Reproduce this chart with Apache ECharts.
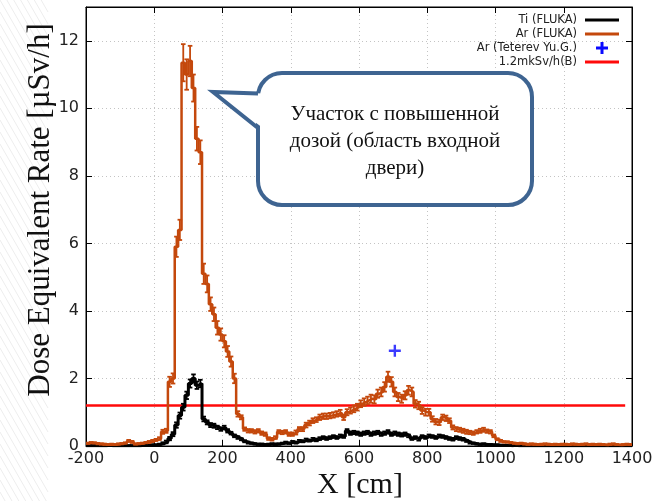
<!DOCTYPE html>
<html><head><meta charset="utf-8">
<script src="https://cdn.jsdelivr.net/npm/echarts@6/dist/echarts.min.js"></script>
<style>html,body{margin:0;padding:0;background:#fff}#c{width:668px;height:501px}</style>
</head><body><div id="c"></div>
<script>
// ---- data (10 cm bins starting at -200 cm) ----
const binStart = -200;
const binWidth = 10;
const xTicks = [-200, 0, 200, 400, 600, 800, 1000, 1200, 1400];
const yTicks = [0, 2, 4, 6, 8, 10, 12];

const arValues = [
  0.08,0.10,0.09,0.07,0.06,0.05,0.04,0.05,0.04,0.06,
  0.07,0.09,0.15,0.12,0.06,0.07,0.08,0.10,0.12,0.15,
  0.18,0.22,0.42,0.45,1.90,2.00,5.90,6.40,11.35,11.00,
  11.40,10.60,9.10,8.70,5.10,4.80,4.20,3.90,3.50,3.30,
  3.10,2.80,2.50,2.00,0.95,0.85,0.50,0.45,0.45,0.42,
  0.45,0.38,0.35,0.22,0.20,0.25,0.42,0.40,0.42,0.35,
  0.35,0.40,0.50,0.50,0.62,0.68,0.75,0.78,0.85,0.88,
  0.88,0.90,0.92,0.95,0.98,0.85,1.00,1.05,1.10,1.15,
  1.25,1.30,1.35,1.40,1.38,1.55,1.60,1.75,2.05,1.90,
  1.60,1.45,1.40,1.50,1.65,1.60,1.25,1.20,1.05,1.00,
  1.00,0.80,0.72,0.70,0.85,0.82,0.75,0.55,0.50,0.48,
  0.45,0.42,0.40,0.38,0.42,0.45,0.48,0.44,0.42,0.30,
  0.20,0.15,0.12,0.12,0.10,0.08,0.07,0.08,0.06,0.05,
  0.06,0.05,0.04,0.05,0.06,0.05,0.04,0.05,0.04,0.05,
  0.05,0.04,0.06,0.05,0.04,0.05,0.06,0.04,0.05,0.04,
  0.05,0.04,0.03,0.05,0.06,0.04,0.03,0.04,0.05,0.04
];
const arErrors = [
  0.02,0.02,0.02,0.02,0.02,0.02,0.02,0.02,0.02,0.02,
  0.02,0.02,0.03,0.03,0.02,0.02,0.02,0.02,0.03,0.03,
  0.03,0.04,0.06,0.06,0.15,0.15,0.30,0.30,0.55,0.45,
  0.45,0.40,0.35,0.35,0.30,0.25,0.20,0.20,0.20,0.18,
  0.18,0.16,0.15,0.14,0.08,0.06,0.05,0.05,0.05,0.05,
  0.05,0.05,0.05,0.04,0.04,0.04,0.05,0.05,0.05,0.05,
  0.05,0.06,0.06,0.06,0.07,0.07,0.07,0.07,0.08,0.08,
  0.08,0.08,0.08,0.08,0.09,0.08,0.09,0.09,0.10,0.10,
  0.10,0.11,0.11,0.12,0.12,0.12,0.13,0.14,0.15,0.14,
  0.13,0.12,0.12,0.12,0.13,0.13,0.11,0.11,0.10,0.10,
  0.10,0.08,0.08,0.08,0.08,0.08,0.07,0.06,0.06,0.06,
  0.06,0.06,0.05,0.05,0.05,0.06,0.06,0.05,0.05,0.04,
  0.03,0.03,0.02,0.02,0.02,0.02,0.02,0.02,0.02,0.02,
  0.02,0.02,0.02,0.02,0.02,0.02,0.02,0.02,0.02,0.02,
  0.02,0.02,0.02,0.02,0.02,0.02,0.02,0.02,0.02,0.02,
  0.02,0.02,0.02,0.02,0.02,0.02,0.02,0.02,0.02,0.02
];
const tiValues = [
  0.01,0.01,0.01,0.01,0.01,0.01,0.02,0.01,0.01,0.01,
  0.01,0.01,0.01,0.01,0.01,0.01,0.02,0.02,0.02,0.03,
  0.03,0.05,0.08,0.12,0.22,0.35,0.62,0.90,1.15,1.50,
  1.85,2.00,1.80,1.85,0.80,0.70,0.62,0.60,0.55,0.50,
  0.55,0.45,0.38,0.30,0.25,0.20,0.14,0.10,0.08,0.06,
  0.05,0.05,0.04,0.05,0.06,0.05,0.06,0.08,0.10,0.08,
  0.12,0.10,0.15,0.14,0.18,0.16,0.20,0.18,0.22,0.25,
  0.22,0.25,0.28,0.25,0.30,0.28,0.45,0.38,0.40,0.38,
  0.35,0.38,0.40,0.35,0.38,0.40,0.35,0.38,0.42,0.35,
  0.38,0.35,0.33,0.35,0.30,0.22,0.25,0.20,0.28,0.25,
  0.30,0.28,0.25,0.30,0.28,0.25,0.22,0.20,0.25,0.22,
  0.20,0.15,0.10,0.08,0.06,0.05,0.06,0.04,0.04,0.03,
  0.03,0.02,0.02,0.02,0.01,0.02,0.01,0.01,0.01,0.01,
  0.01,0.01,0.01,0.01,0.01,0.01,0.01,0.01,0.01,0.01,
  0.01,0.01,0.01,0.01,0.01,0.01,0.01,0.01,0.01,0.01,
  0.01,0.01,0.01,0.01,0.01,0.01,0.01,0.01,0.01,0.01
];
const tiErrors = [
  0.01,0.01,0.01,0.01,0.01,0.01,0.01,0.01,0.01,0.01,
  0.01,0.01,0.01,0.01,0.01,0.01,0.01,0.01,0.01,0.02,
  0.02,0.02,0.03,0.04,0.05,0.06,0.08,0.09,0.10,0.11,
  0.12,0.12,0.11,0.11,0.07,0.06,0.06,0.06,0.05,0.05,
  0.05,0.05,0.04,0.04,0.04,0.03,0.03,0.03,0.02,0.02,
  0.02,0.02,0.02,0.02,0.02,0.02,0.02,0.02,0.03,0.02,
  0.03,0.03,0.03,0.03,0.04,0.03,0.04,0.04,0.04,0.04,
  0.04,0.04,0.04,0.04,0.04,0.04,0.05,0.05,0.05,0.05,
  0.05,0.05,0.05,0.05,0.05,0.05,0.05,0.05,0.05,0.05,
  0.05,0.05,0.05,0.05,0.04,0.04,0.04,0.04,0.04,0.04,
  0.04,0.04,0.04,0.04,0.04,0.04,0.04,0.04,0.04,0.04,
  0.04,0.03,0.03,0.02,0.02,0.02,0.02,0.02,0.02,0.02,
  0.02,0.01,0.01,0.01,0.01,0.01,0.01,0.01,0.01,0.01,
  0.01,0.01,0.01,0.01,0.01,0.01,0.01,0.01,0.01,0.01,
  0.01,0.01,0.01,0.01,0.01,0.01,0.01,0.01,0.01,0.01,
  0.01,0.01,0.01,0.01,0.01,0.01,0.01,0.01,0.01,0.01
];
const teterevPoints = [[705, 2.82]];
const limitValue = 1.2;
const limitRange = [-200, 1380];

const seriesNames = ['Ti (FLUKA)', 'Ar (FLUKA)', 'Ar (Teterev Yu.G.)', '1.2mkSv/h(B)'];
const calloutLines = ['Участок с повышенной', 'дозой (область входной', 'двери)'];

// ---- styles ----
const C_TI = '#000000', C_AR = '#c4480c', C_BLUE = '#0a0aff', C_RED = '#ff0a0a', C_BOX = '#3e6491';
const PLUS = 'path://M4,0H6V4H10V6H6V10H4V6H0V4H4Z';

function stepData(vals) {
  const d = vals.map((v, i) => [binStart + binWidth * i, v]);
  d.push([binStart + binWidth * vals.length, vals[vals.length - 1]]);
  return d;
}
function errSeries(name, vals, errs, color, z) {
  return {
    type: 'custom', name: name + ' err', z: z, silent: true, clip: true,
    data: vals.map((v, i) => [binStart + binWidth * (i + 0.5), v, errs[i]]),
    encode: { x: 0, y: 1 },
    renderItem: function (params, api) {
      const x = api.value(0), v = api.value(1), e = api.value(2);
      const t = api.coord([x, v + e]);
      const b = api.coord([x, Math.max(0, v - e)]);
      const hw = 2.3, st = { stroke: color, lineWidth: 1.8 };
      return { type: 'group', children: [
        { type: 'line', shape: { x1: t[0], y1: t[1], x2: b[0], y2: b[1] }, style: st },
        { type: 'line', shape: { x1: t[0] - hw, y1: t[1], x2: t[0] + hw, y2: t[1] }, style: st },
        { type: 'line', shape: { x1: b[0] - hw, y1: b[1], x2: b[0] + hw, y2: b[1] }, style: st }
      ]};
    }
  };
}

const font = '"DejaVu Sans", sans-serif';
const chart = echarts.init(document.getElementById('c'), null, { renderer: 'canvas' });

// faint slide background hatch (decoration at the left margin)
const hatch = [];
for (let k = -8; k < 44; k++) {
  hatch.push({ type: 'line', z: -10, silent: true, shape: { x1: 0, y1: k * 12, x2: 48, y2: k * 12 + 84 },
    style: { stroke: '#ededed', lineWidth: 1 } });
}

const legendRows = [20, 34, 48, 62];
const legendGraphics = [];
seriesNames.forEach((n, i) => {
  legendGraphics.push({ type: 'text', x: 577, y: legendRows[i], z: 100,
    style: { text: n, font: '11.5px ' + font, fill: '#222', align: 'right', verticalAlign: 'middle' } });
});
legendGraphics.push({ type: 'line', z: 100, shape: { x1: 585, y1: legendRows[0], x2: 619, y2: legendRows[0] }, style: { stroke: C_TI, lineWidth: 3 } });
legendGraphics.push({ type: 'line', z: 100, shape: { x1: 585, y1: legendRows[1], x2: 619, y2: legendRows[1] }, style: { stroke: C_AR, lineWidth: 3 } });
legendGraphics.push({ type: 'line', z: 100, shape: { x1: 596, y1: legendRows[2], x2: 608, y2: legendRows[2] }, style: { stroke: C_BLUE, lineWidth: 3 } });
legendGraphics.push({ type: 'line', z: 100, shape: { x1: 602, y1: legendRows[2] - 6, x2: 602, y2: legendRows[2] + 6 }, style: { stroke: C_BLUE, lineWidth: 3 } });
legendGraphics.push({ type: 'line', z: 100, shape: { x1: 585, y1: legendRows[3], x2: 619, y2: legendRows[3] }, style: { stroke: C_RED, lineWidth: 3 } });

const calloutGraphics = [
  { type: 'rect', z: 110, shape: { x: 258, y: 73, width: 274, height: 132, r: 24 }, style: { fill: '#fff', stroke: C_BOX, lineWidth: 4 } },
  { type: 'polygon', z: 111, shape: { points: [[214, 92], [263, 93.5], [263, 128]] }, style: { fill: '#fff' } },
  { type: 'polyline', z: 112, shape: { points: [[258, 93.5], [213, 92], [258, 128]] }, style: { stroke: C_BOX, lineWidth: 4, lineJoin: 'miter', fill: null } }
];
const calloutY = [114, 141, 168];
calloutLines.forEach((t, i) => {
  calloutGraphics.push({ type: 'text', z: 113, x: 395, y: calloutY[i],
    style: { text: t, font: '21px "Liberation Serif", serif', fill: '#111', align: 'center', verticalAlign: 'middle' } });
});

const axisCommonX = { type: 'value', min: xTicks[0], max: xTicks[xTicks.length - 1], interval: 200 };
const axisCommonY = { type: 'value', min: 0, max: 13, interval: 2 };

chart.setOption({
  animation: false,
  backgroundColor: '#fff',
  grid: { left: 86, right: 36, top: 7, bottom: 55, show: true, borderColor: '#000', borderWidth: 1, backgroundColor: '#fff' },
  xAxis: [
    Object.assign({}, axisCommonX, {
      position: 'bottom',
      axisLine: { show: true, onZero: false, lineStyle: { color: '#000', width: 1 } },
      axisTick: { show: true, inside: true, length: 6, lineStyle: { color: '#000' } },
      axisLabel: { color: '#222', fontSize: 16, fontFamily: font, margin: 5, formatter: v => String(v) },
      splitLine: { show: true, lineStyle: { color: '#c4c4c4', type: [1, 3], width: 1 } }
    }),
    Object.assign({}, axisCommonX, {
      position: 'top',
      axisLine: { show: true, onZero: false, lineStyle: { color: '#000', width: 1 } },
      axisTick: { show: true, inside: true, length: 6, lineStyle: { color: '#000' } },
      axisLabel: { show: false }, splitLine: { show: false }
    })
  ],
  yAxis: [
    Object.assign({}, axisCommonY, {
      position: 'left',
      axisLine: { show: true, onZero: false, lineStyle: { color: '#000', width: 1 } },
      axisTick: { show: true, inside: true, length: 6, lineStyle: { color: '#000' } },
      axisLabel: { color: '#222', fontSize: 16, fontFamily: font, margin: 7, showMaxLabel: false,
        formatter: v => (yTicks.indexOf(v) >= 0 ? String(v) : '') },
      splitLine: { show: true, lineStyle: { color: '#c4c4c4', type: [1, 3], width: 1 } }
    }),
    Object.assign({}, axisCommonY, {
      position: 'right',
      axisLine: { show: true, onZero: false, lineStyle: { color: '#000', width: 1 } },
      axisTick: { show: true, inside: true, length: 6, lineStyle: { color: '#000' } },
      axisLabel: { show: false }, splitLine: { show: false }
    })
  ],
  series: [
    { type: 'line', name: seriesNames[3], data: [[limitRange[0], limitValue], [limitRange[1], limitValue]],
      showSymbol: false, silent: true, z: 2, lineStyle: { color: C_RED, width: 2.5 } },
    { type: 'line', name: seriesNames[0], data: stepData(tiValues), step: 'end', showSymbol: false, silent: true, z: 3,
      lineStyle: { color: C_TI, width: 3 } },
    errSeries(seriesNames[0], tiValues, tiErrors, C_TI, 3),
    { type: 'line', name: seriesNames[1], data: stepData(arValues), step: 'end', showSymbol: false, silent: true, z: 4,
      lineStyle: { color: C_AR, width: 2.5 } },
    errSeries(seriesNames[1], arValues, arErrors, C_AR, 4),
    { type: 'scatter', name: seriesNames[2], data: teterevPoints, symbol: PLUS, symbolSize: 12, z: 5,
      itemStyle: { color: C_BLUE } }
  ],
  graphic: hatch.concat([
    { type: 'text', x: 41, y: 210, rotation: Math.PI / 2, z: 50,
      style: { text: 'Dose Equivalent Rate [µSv/h]', font: '31px "Liberation Serif", serif', fill: '#111', align: 'center', verticalAlign: 'middle' } },
    { type: 'text', x: 360, y: 485, z: 50,
      style: { text: 'X [cm]', font: '30px "Liberation Serif", serif', fill: '#111', align: 'center', verticalAlign: 'middle' } }
  ], legendGraphics, calloutGraphics)
});
</script>
</body></html>
